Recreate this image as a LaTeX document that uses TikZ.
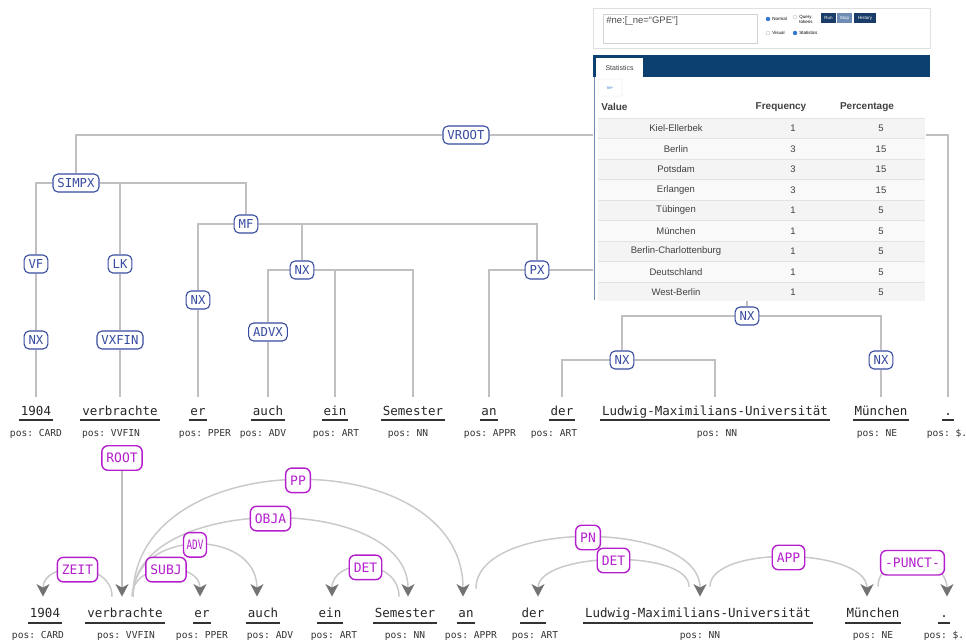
\documentclass[tikz,border=0pt]{standalone}
\usepackage{fontspec}
\setsansfont{Liberation Sans}
\setmonofont{DejaVu Sans Mono}
\usetikzlibrary{arrows.meta, backgrounds}

\definecolor{treegray}{RGB}{192,192,192}
\definecolor{arcgray}{RGB}{202,202,202}
\definecolor{tipgray}{RGB}{115,115,115}
\definecolor{catblue}{RGB}{55,75,160}
\definecolor{depmag}{RGB}{180,30,205}
\definecolor{tabnavy}{RGB}{12,64,112}
\definecolor{btnnavy}{RGB}{25,60,105}
\definecolor{btnpale}{RGB}{110,140,180}
\definecolor{rowgray}{RGB}{244,244,244}
\definecolor{rowpale}{RGB}{249,249,249}
\definecolor{radioblue}{RGB}{50,120,210}

\begin{document}
\begin{tikzpicture}[x=1pt, y=-1pt, line width=0.8pt,
  tree/.style={draw=treegray, line width=2pt},
  cat/.style={draw=catblue, fill=white, text=catblue, rounded corners=5pt,
    line width=1.1pt, font=\fontsize{12.3}{12}\selectfont\ttfamily,
    inner xsep=4.5pt, inner ysep=4.5pt, text height=9pt, text depth=0pt},
  tok/.style={font=\fontsize{12.5}{14}\selectfont\ttfamily, text=black!85,
    anchor=base, inner xsep=1.5pt, inner ysep=9pt, text height=9pt, text depth=3pt},
  btok/.style={tok, inner ysep=11pt},
  postag/.style={font=\fontsize{9.6}{11}\selectfont\ttfamily, text=black!80,
    anchor=base, inner sep=0pt},
  uline/.style={draw=black!80, line width=1.2pt},
  dep/.style={draw=arcgray, line width=1.5pt,
    -{Stealth[length=12.5pt, width=13pt, inset=3.5pt, color=tipgray]}},
  rel/.style={draw=depmag, fill=white, text=depmag, rounded corners=6pt,
    line width=1.4pt, font=\fontsize{13}{13}\selectfont\ttfamily,
    inner xsep=4.5pt, inner ysep=7.5pt, text height=9.5pt, text depth=0pt},
  cell/.style={font=\fontsize{9.5}{11}\selectfont\sffamily, text=black!75, inner sep=0pt},
  tiny/.style={font=\fontsize{4.5}{5}\selectfont\sffamily, inner sep=0pt}]

  \useasboundingbox (0,0) rectangle (966,641);

  % Tokens of the constituency tree
  \node[tok] (t1) at (36,415) {1904};
  \node[tok] (t2) at (120,415) {verbrachte};
  \node[tok] (t3) at (198,415) {er};
  \node[tok] (t4) at (268,415) {auch};
  \node[tok] (t5) at (335,415) {ein};
  \node[tok] (t6) at (413,415) {Semester};
  \node[tok] (t7) at (489,415) {an};
  \node[tok] (t8) at (562,415) {der};
  \node[tok] (t9) at (715,415) {Ludwig-Maximilians-Universität};
  \node[tok] (t10) at (881,415) {München};
  \node[tok] (t11) at (948,415) {.};
  \foreach \i in {1,...,11}
    \draw[uline] ([yshift=-5pt]t\i.base west) -- ([yshift=-5pt]t\i.base east);

  \node[postag] (p1) at (36,436) {pos: CARD};
  \node[postag] (p2) at (111,436) {pos: VVFIN};
  \node[postag] (p3) at (205,436) {pos: PPER};
  \node[postag] (p4) at (263,436) {pos: ADV};
  \node[postag] (p5) at (336,436) {pos: ART};
  \node[postag] (p6) at (408,436) {pos: NN};
  \node[postag] (p7) at (490,436) {pos: APPR};
  \node[postag] (p8) at (554,436) {pos: ART};
  \node[postag] (p9) at (717,436) {pos: NN};
  \node[postag] (p10) at (877,436) {pos: NE};
  \node[postag] (p11) at (947,436) {pos: \$.};

  % Categories
  \node[cat] (vroot) at (466,135) {VROOT};
  \node[cat] (simpx) at (76,183) {SIMPX};
  \node[cat] (vf) at (36,264) {VF};
  \node[cat] (nxa) at (36,340) {NX};
  \node[cat] (lk) at (120,264) {LK};
  \node[cat] (vxfin) at (120,340) {VXFIN};
  \node[cat] (mf) at (246,224) {MF};
  \node[cat] (nxer) at (198,300) {NX};
  \node[cat] (nxb) at (302,270) {NX};
  \node[cat] (advx) at (268,332) {ADVX};
  \node[cat] (px) at (537,270) {PX};
  \node[cat] (nxc) at (747,316) {NX};
  \node[cat] (nxd) at (622,360) {NX};
  \node[cat] (nxe) at (881,360) {NX};

  \begin{scope}[on background layer]
    \draw[tree] (vroot) -| (simpx);
    \draw[tree] (vroot) -| (t11);
    \draw[tree] (simpx) -| (vf);
    \draw[tree] (simpx) -| (lk);
    \draw[tree] (simpx) -| (mf);
    \draw[tree] (vf) -- (nxa);
    \draw[tree] (nxa) -- (t1);
    \draw[tree] (lk) -- (vxfin);
    \draw[tree] (vxfin) -- (t2);
    \draw[tree] (mf) -| (nxer);
    \draw[tree] (mf) -| (nxb);
    \draw[tree] (mf) -| (px);
    \draw[tree] (nxer) -- (t3);
    \draw[tree] (nxb) -| (advx);
    \draw[tree] (nxb) -| (t5);
    \draw[tree] (nxb) -| (t6);
    \draw[tree] (advx) -- (t4);
    \draw[tree] (px) -| (t7);
    \draw[tree] (px) -| (nxc);
    \draw[tree] (nxc) -| (nxd);
    \draw[tree] (nxc) -| (nxe);
    \draw[tree] (nxd) -| (t8);
    \draw[tree] (nxd) -| (t9);
    \draw[tree] (nxe) -- (t10);
  \end{scope}

  % Tokens of the dependency tree
  \node[btok] (b1) at (45,617) {1904};
  \node[btok] (b2) at (125,617) {verbrachte};
  \node[btok] (b3) at (202,617) {er};
  \node[btok] (b4) at (263,617) {auch};
  \node[btok] (b5) at (330,617) {ein};
  \node[btok] (b6) at (405,617) {Semester};
  \node[btok] (b7) at (466,617) {an};
  \node[btok] (b8) at (533,617) {der};
  \node[btok] (b9) at (698,617) {Ludwig-Maximilians-Universität};
  \node[btok] (b10) at (873,617) {München};
  \node[btok] (b11) at (944,617) {.};
  \foreach \i in {1,...,11}
    \draw[uline] ([yshift=-6pt]b\i.base west) -- ([yshift=-6pt]b\i.base east);

  \node[postag] (q1) at (38,638) {pos: CARD};
  \node[postag] (q2) at (126,638) {pos: VVFIN};
  \node[postag] (q3) at (202,638) {pos: PPER};
  \node[postag] (q4) at (270,638) {pos: ADV};
  \node[postag] (q5) at (334,638) {pos: ART};
  \node[postag] (q6) at (405,638) {pos: NN};
  \node[postag] (q7) at (471,638) {pos: APPR};
  \node[postag] (q8) at (535,638) {pos: ART};
  \node[postag] (q9) at (700,638) {pos: NN};
  \node[postag] (q10) at (873,638) {pos: NE};
  \node[postag] (q11) at (944,638) {pos: \$.};

  % Arcs (labels go on top afterwards)
  \node[rel] (root) at (122,458) {ROOT};
  \begin{scope}[on background layer]
    \draw[dep, draw=treegray] (root) -- ([xshift=-3pt]b2.north);
    \draw[dep] ([xshift=-13pt]b2.north) .. controls +(0,-36) and +(0,-36) .. ([xshift=-2pt]b1.north)
      coordinate[midway] (czeit);
    \draw[dep] ([xshift=7pt]b2.north) .. controls +(0,-36) and +(0,-36) .. ([xshift=-2pt]b3.north)
      coordinate[midway] (csubj);
    \draw[dep] ([xshift=8pt]b2.north) .. controls +(0,-69) and +(0,-69) .. ([xshift=-6pt]b4.north)
      coordinate[midway] (cadv);
    \draw[dep] ([xshift=8pt]b2.north) .. controls +(0,-104) and +(0,-104) .. ([xshift=3pt]b6.north)
      coordinate[midway] (cobja);
    \draw[dep] ([xshift=8pt]b2.north) .. controls +(0,-155) and +(0,-155) .. ([xshift=-3pt]b7.north)
      coordinate[midway] (cpp);
    \draw[dep] ([xshift=-6pt]b6.north) .. controls +(0,-39) and +(0,-39) .. ([xshift=2pt]b5.north)
      coordinate[midway] (cdeta);
    \draw[dep] ([xshift=10pt, yshift=8pt]b7.north) .. controls +(0,-70) and +(0,-77) .. ([xshift=2pt]b9.north)
      coordinate[midway] (cpn);
    \draw[dep] ([xshift=-9pt, yshift=10pt]b9.north) .. controls +(0,-38) and +(0,-45) .. ([xshift=5pt]b8.north)
      coordinate[midway] (cdetb);
    \draw[dep] ([xshift=12pt, yshift=10pt]b9.north) .. controls +(0,-42) and +(0,-49) .. ([xshift=-6pt]b10.north)
      coordinate[midway] (capp);
    \draw[dep] ([xshift=5pt, yshift=10pt]b10.north) .. controls +(0,-35) and +(0,-42) .. ([xshift=3pt]b11.north)
      coordinate[midway] (cpunct);
  \end{scope}
  \node[rel] (lzeit) at (czeit) {ZEIT};
  \node[rel] (lsubj) at (csubj) {SUBJ};
  \node[rel, inner xsep=3pt] (ladv) at (cadv) {\scalebox{0.72}[1]{ADV}};
  \node[rel] (lobja) at (cobja) {OBJA};
  \node[rel] (lpp) at (cpp) {PP};
  \node[rel] (ldeta) at (cdeta) {DET};
  \node[rel] (lpn) at (cpn) {PN};
  \node[rel] (ldetb) at (cdetb) {DET};
  \node[rel] (lapp) at (capp) {APP};
  \node[rel] (lpunct) at (cpunct) {-PUNCT-};

  % Query panel on top of the tree
  \draw[gray!25, fill=white] (593,8) rectangle (930,48);
  \draw[gray!35, fill=white] (603,14) rectangle (757,43);
  \node[cell, anchor=west, font=\fontsize{9.5}{10}\selectfont\sffamily, text=black!70]
    (query) at (606,21) {\#ne:[\_ne=``GPE'']};
  \fill[radioblue] (768,19) circle (2.2);
  \node[tiny, anchor=west] (optnormal) at (772,19) {Normal};
  \draw[gray!50, line width=0.4pt] (795,17) circle (2);
  \node[tiny, anchor=west, align=left] (optquery) at (799,19) {Query\\tokens};
  \draw[gray!50, line width=0.4pt] (768,33) circle (2);
  \node[tiny, anchor=west] (optvisual) at (772,33) {Visual};
  \fill[radioblue] (795,33) circle (2.2);
  \node[tiny, anchor=west] (optstats) at (799,33) {Statistics};
  \fill[btnnavy] (821,13) rectangle (836,23);
  \node[tiny, text=white] (btnrun) at (828.5,18) {Run};
  \fill[btnpale] (837,13) rectangle (852,23);
  \node[tiny, text=white] (btnstop) at (844.5,18) {Stop};
  \fill[btnnavy] (854,13) rectangle (876,23);
  \node[tiny, text=white] (btnhist) at (865,18) {History};

  % Statistics tab
  \fill[tabnavy] (593,55) rectangle (930,77);
  \fill[white] (596,58) rectangle (643,77);
  \node[cell, font=\fontsize{7}{8}\selectfont\sffamily] (tab) at (619.5,67.5) {Statistics};
  \fill[white] (593,77) rectangle (926,300);
  \draw[btnpale, line width=1pt] (594,77) -- (594,300);
  \draw[gray!15, line width=0.5pt, rounded corners=1pt] (598,79) rectangle (622,96);
  \node[tiny, text=radioblue] (nesel) at (610,88) {ne-};
  \node[cell, anchor=west, font=\fontsize{10}{11}\selectfont\sffamily\bfseries] (hval) at (601,107) {Value};
  \node[cell, font=\fontsize{10}{11}\selectfont\sffamily\bfseries] (hfreq) at (781,107) {Frequency};
  \node[cell, font=\fontsize{10}{11}\selectfont\sffamily\bfseries] (hperc) at (867,107) {Percentage};

  \begin{scope}
    \clip (593,77) rectangle (926,300);
    \foreach \v/\f/\p [count=\i] in {Kiel-Ellerbek/1/5, Berlin/3/15, Potsdam/3/15,
        Erlangen/3/15, Tübingen/1/5, München/1/5, Berlin-Charlottenburg/1/5,
        Deutschland/1/5, West-Berlin/1/5} {
      \pgfmathsetmacro\ry{118+(\i-1)*20.5}
      \pgfmathparse{isodd(\i) ? "rowgray" : "rowpale"}
      \fill[\pgfmathresult] (598,\ry) rectangle (925,\ry+20.5);
      \draw[gray!22, line width=0.6pt] (598,\ry) -- (925,\ry);
      \node[cell] (val\i) at (676,\ry+10.5) {\v};
      \node[cell] (freq\i) at (793,\ry+10.5) {\f};
      \node[cell] (perc\i) at (881,\ry+10.5) {\p};
    }
  \end{scope}

\end{tikzpicture}
\end{document}
